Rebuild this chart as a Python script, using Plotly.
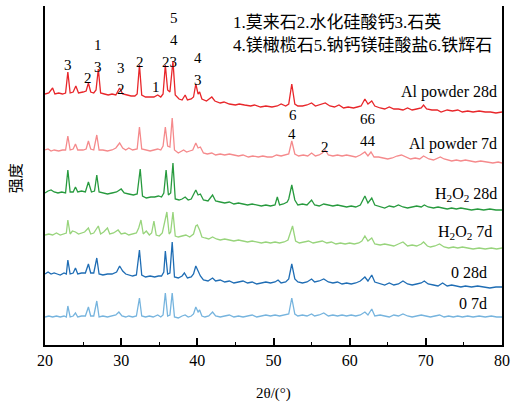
import plotly.graph_objects as go

# ---------------- data (2θ in degrees, intensity in a.u., stacked) ----------------
al28_x = [20.0, 20.5, 21.0, 21.3, 21.8, 22.3, 22.7, 23.0, 23.3, 23.7, 24.05, 24.4, 25.0, 25.4, 25.7, 26.0, 26.4, 26.7, 27.0, 27.3,
          27.8, 28.3, 28.8, 29.3, 29.8, 30.2, 30.8, 31.3, 31.8, 32.1, 32.4, 32.7, 33.2, 33.8, 34.3, 34.8, 35.2, 35.5, 35.8, 36.1,
          36.4, 36.8, 37.1, 37.6, 38.0, 38.4, 38.7, 39.2, 39.5, 39.8, 40.1, 40.3, 40.6, 41.2, 41.9, 42.3, 43.0, 43.5, 44.2, 45.0,
          45.5, 46.2, 47.0, 47.5, 48.3, 49.0, 49.8, 50.5, 51.0, 51.6, 52.0, 52.4, 52.8, 53.2, 53.8, 54.4, 55.0, 55.5, 56.0, 56.8,
          57.4, 58.0, 58.6, 59.2, 59.8, 60.5, 61.0, 61.5, 62.0, 62.4, 62.9, 63.3, 64.0, 64.6, 65.2, 65.8, 66.4, 67.0, 67.6, 68.2,
          68.8, 69.4, 69.7, 70.1, 70.8, 71.5, 72.0, 72.8, 73.5, 74.2, 74.8, 75.5, 76.2, 77.0, 77.8, 78.5, 79.2, 80.0]
al28_y = [251, 252, 257, 251, 252, 251, 252, 273, 252, 253, 259, 252, 253, 254, 262, 253, 252, 255, 276, 252,
          251, 250, 251, 250, 257, 251, 250, 249, 249, 251, 280, 250, 248, 248, 248, 250, 248, 251, 280, 255,
          253, 284, 250, 246, 245, 250, 245, 246, 248, 261, 251, 253, 246, 244, 248, 244, 242, 243, 241, 240,
          241, 240, 239, 240, 238, 239, 238, 239, 241, 239, 241, 261, 241, 239, 239, 240, 242, 239, 240, 242,
          239, 238, 240, 237, 238, 237, 238, 239, 246, 241, 244, 239, 237, 236, 238, 236, 236, 235, 237, 235,
          236, 237, 240, 236, 235, 235, 233, 235, 234, 235, 233, 234, 233, 234, 233, 233, 232, 233]

al7_x = [20.0, 20.4, 20.8, 21.2, 21.8, 22.3, 22.7, 23.0, 23.3, 23.7, 24.0, 24.3, 25.0, 25.4, 25.7, 26.0, 26.4, 26.8, 27.1, 27.6,
         28.2, 28.8, 29.3, 29.8, 30.2, 30.6, 31.0, 31.5, 32.1, 32.4, 32.7, 33.2, 33.8, 34.3, 34.8, 35.2, 35.5, 35.8, 36.1, 36.4,
         36.7, 37.0, 37.5, 38.2, 38.6, 39.0, 39.4, 39.8, 40.1, 40.4, 40.8, 41.3, 41.9, 42.4, 43.0, 43.6, 44.2, 44.8, 45.4, 46.0,
         46.7, 47.3, 48.0, 48.6, 49.2, 49.8, 50.4, 51.0, 51.6, 52.0, 52.4, 52.8, 53.3, 53.9, 54.5, 55.0, 55.5, 56.0, 56.4, 56.8,
         57.2, 57.8, 58.4, 59.0, 59.6, 60.2, 60.8, 61.4, 62.0, 62.4, 62.8, 63.2, 63.8, 64.4, 65.0, 65.6, 66.2, 66.8, 67.4, 68.0,
         68.6, 69.2, 69.7, 70.4, 71.0, 71.9, 72.4, 72.8, 73.4, 74.0, 74.6, 75.2, 75.8, 76.5, 77.2, 78.0, 78.8, 79.5, 80.0]
al7_y = [195, 196, 194, 195, 194, 195, 195, 209, 195, 196, 201, 195, 195, 196, 204, 196, 195, 210, 195, 195,
         194, 195, 197, 202, 197, 195, 197, 195, 196, 218, 196, 195, 194, 195, 196, 195, 199, 218, 199, 198,
         227, 195, 192, 195, 193, 194, 195, 202, 197, 198, 192, 191, 192, 190, 191, 190, 191, 190, 189, 190,
         188, 189, 188, 189, 188, 188, 190, 189, 190, 191, 204, 191, 189, 190, 189, 192, 189, 190, 192, 195,
         190, 189, 190, 189, 190, 189, 188, 190, 193, 189, 193, 188, 188, 187, 186, 187, 189, 190, 188, 186,
         187, 186, 189, 186, 185, 188, 186, 185, 184, 185, 184, 185, 184, 183, 184, 183, 182, 183, 182]

h28_x = [20.0, 20.4, 20.8, 21.2, 21.7, 22.2, 22.7, 23.0, 23.3, 23.7, 24.0, 24.3, 24.8, 25.3, 25.7, 26.1, 26.5, 26.8, 27.1, 27.6,
         28.2, 28.8, 29.4, 30.0, 30.4, 31.0, 31.6, 32.1, 32.5, 32.8, 33.3, 33.9, 34.4, 34.9, 35.3, 35.6, 35.9, 36.2, 36.5, 36.8,
         37.1, 37.6, 38.0, 38.4, 38.8, 39.2, 39.5, 39.8, 40.1, 40.4, 40.8, 41.4, 42.0, 42.4, 43.0, 43.6, 44.2, 44.8, 45.4, 46.0,
         46.6, 47.2, 47.8, 48.4, 49.0, 49.6, 50.2, 50.5, 50.8, 51.3, 51.8, 52.0, 52.4, 52.8, 53.2, 53.8, 54.4, 55.0, 55.4, 56.0,
         56.6, 57.2, 57.8, 58.4, 59.0, 59.6, 60.2, 60.8, 61.4, 62.0, 62.4, 62.9, 63.3, 64.0, 64.6, 65.2, 65.8, 66.4, 67.0, 67.6,
         68.2, 68.8, 69.4, 69.8, 70.3, 71.0, 71.6, 72.2, 72.8, 73.4, 74.0, 74.6, 75.2, 76.0, 76.8, 77.6, 78.4, 79.2, 80.0]
h28_y = [152, 154, 155, 153, 152, 153, 152, 175, 153, 153, 158, 153, 154, 153, 163, 153, 154, 170, 153, 152,
         151, 152, 153, 156, 152, 151, 150, 151, 176, 149, 147, 148, 148, 149, 148, 152, 175, 150, 152, 182,
         146, 145, 146, 148, 145, 146, 150, 155, 150, 151, 145, 144, 150, 144, 143, 142, 143, 141, 142, 141,
         140, 141, 140, 139, 140, 139, 140, 148, 140, 141, 143, 146, 160, 145, 140, 141, 140, 145, 140, 139,
         141, 140, 139, 140, 139, 138, 139, 138, 140, 149, 142, 147, 140, 138, 137, 139, 138, 140, 138, 137,
         138, 139, 138, 140, 138, 137, 138, 137, 136, 137, 136, 137, 136, 135, 136, 135, 136, 135, 135]

h7_x = [20.0, 20.5, 21.0, 21.5, 22.0, 22.5, 22.8, 23.0, 23.3, 23.6, 24.0, 24.4, 24.8, 25.2, 25.7, 26.0, 26.4, 27.0, 27.3, 27.7,
        28.2, 28.5, 29.0, 29.6, 30.0, 30.5, 31.0, 31.5, 32.0, 32.3, 32.6, 32.9, 33.3, 33.7, 34.0, 34.3, 34.6, 35.0, 35.4, 36.0,
        36.3, 36.5, 36.8, 37.1, 37.5, 38.0, 38.5, 39.0, 39.5, 39.8, 40.0, 40.3, 40.6, 41.0, 41.5, 42.0, 42.5, 43.0, 43.6, 44.2,
        44.8, 45.4, 46.0, 46.6, 47.2, 47.8, 48.4, 49.0, 49.6, 50.2, 50.8, 51.4, 51.9, 52.5, 52.9, 53.4, 54.0, 54.6, 55.2, 55.8,
        56.4, 57.0, 57.6, 58.2, 58.8, 59.4, 60.0, 60.6, 61.2, 61.6, 62.0, 62.4, 62.9, 63.3, 64.0, 64.6, 65.2, 65.8, 66.4, 67.0,
        67.6, 68.2, 68.8, 69.4, 69.7, 70.2, 70.6, 71.2, 71.8, 72.4, 73.0, 73.6, 74.2, 74.8, 75.5, 76.2, 77.0, 77.8, 78.6, 79.3, 80.0]
h7_y = [110, 111, 110, 112, 110, 111, 112, 125, 111, 114, 113, 111, 112, 113, 117, 111, 112, 119, 111, 113,
        117, 111, 112, 115, 111, 112, 110, 111, 112, 117, 125, 111, 114, 110, 112, 124, 110, 109, 112, 133,
        111, 113, 133, 109, 108, 109, 110, 108, 111, 119, 120, 115, 108, 107, 106, 108, 106, 105, 106, 105,
        104, 105, 104, 103, 104, 103, 102, 103, 102, 103, 102, 103, 105, 119, 104, 102, 103, 104, 102, 103,
        104, 102, 103, 101, 102, 101, 102, 101, 102, 104, 109, 104, 107, 101, 100, 101, 100, 99, 101, 103,
        99, 100, 99, 101, 103, 99, 98, 99, 101, 98, 97, 98, 97, 98, 97, 96, 97, 96, 97, 96, 97]

c28_x = [20.0, 20.4, 20.8, 21.2, 21.6, 22.0, 22.5, 22.8, 23.0, 23.3, 23.7, 24.0, 24.3, 24.8, 25.3, 25.7, 26.0, 26.4, 26.8, 27.1,
         27.6, 28.2, 28.8, 29.4, 29.8, 30.2, 30.6, 31.0, 31.5, 32.0, 32.4, 32.7, 33.2, 33.8, 34.4, 34.9, 35.3, 35.6, 35.8, 36.1,
         36.4, 36.7, 37.0, 37.5, 38.0, 38.3, 38.7, 39.2, 39.5, 39.8, 40.1, 40.4, 40.8, 41.4, 42.0, 42.4, 43.0, 43.6, 44.2, 44.8,
         45.4, 46.0, 46.6, 47.2, 47.8, 48.4, 49.0, 49.6, 50.2, 50.6, 51.0, 51.6, 52.0, 52.4, 52.8, 53.2, 53.8, 54.4, 55.0, 55.4,
         56.0, 56.6, 57.2, 57.8, 58.4, 59.0, 59.6, 60.2, 60.8, 61.4, 62.0, 62.4, 62.9, 63.3, 64.0, 64.6, 65.2, 65.8, 66.4, 67.0,
         67.6, 68.2, 68.8, 69.4, 69.8, 70.3, 71.0, 71.6, 72.2, 72.8, 73.4, 74.0, 74.6, 75.2, 76.0, 76.8, 77.6, 78.4, 79.2, 80.0]
c28_y = [71, 73, 71, 72, 71, 70, 72, 71, 85, 71, 72, 77, 71, 72, 72, 81, 72, 72, 87, 71,
         70, 71, 71, 73, 79, 74, 71, 70, 69, 70, 95, 70, 68, 69, 68, 69, 69, 73, 94, 71,
         72, 103, 68, 67, 69, 72, 67, 68, 71, 79, 73, 69, 65, 64, 67, 64, 65, 63, 64, 62,
         63, 64, 62, 63, 61, 62, 63, 62, 63, 65, 62, 63, 66, 81, 66, 63, 62, 63, 66, 63,
         64, 66, 63, 62, 63, 61, 62, 61, 62, 64, 68, 64, 70, 63, 61, 60, 62, 60, 61, 64,
         61, 60, 61, 62, 64, 61, 60, 59, 62, 59, 60, 59, 58, 59, 58, 59, 58, 57, 58, 58]

c7_x = [20.0, 20.5, 21.0, 21.5, 22.0, 22.5, 22.8, 23.0, 23.3, 23.7, 24.0, 24.3, 24.8, 25.3, 25.7, 26.0, 26.4, 26.8, 27.1, 27.6,
        28.2, 28.8, 29.3, 29.7, 30.1, 30.6, 31.0, 31.5, 32.0, 32.4, 32.7, 33.2, 33.7, 34.2, 34.8, 35.2, 35.5, 35.8, 36.1, 36.4,
        36.7, 37.0, 37.5, 38.0, 38.4, 38.8, 39.2, 39.5, 39.8, 40.1, 40.3, 40.6, 41.0, 41.5, 42.0, 42.4, 43.0, 43.6, 44.2, 44.8,
        45.4, 46.0, 46.6, 47.2, 47.8, 48.4, 49.0, 49.6, 50.2, 50.8, 51.4, 52.0, 52.4, 52.8, 53.2, 53.8, 54.4, 55.0, 55.4, 56.0,
        56.6, 57.2, 57.8, 58.4, 59.0, 59.6, 60.2, 60.8, 61.4, 62.0, 62.4, 62.9, 63.3, 64.0, 64.6, 65.2, 65.8, 66.4, 67.0, 67.6,
        68.2, 68.8, 69.4, 70.0, 70.6, 71.2, 71.8, 72.4, 73.0, 73.6, 74.2, 74.8, 75.5, 76.2, 77.0, 77.8, 78.6, 79.3, 80.0]
c7_y = [28, 29, 28, 29, 28, 29, 28, 39, 28, 29, 32, 28, 29, 29, 38, 29, 29, 44, 28, 29,
        28, 29, 30, 33, 29, 28, 29, 28, 29, 47, 29, 28, 29, 28, 30, 28, 30, 52, 29, 30,
        52, 28, 27, 29, 30, 28, 29, 31, 38, 33, 35, 29, 28, 29, 33, 29, 28, 29, 30, 28,
        29, 28, 29, 30, 28, 29, 30, 29, 30, 29, 30, 31, 47, 31, 29, 30, 29, 31, 29, 30,
        32, 29, 30, 29, 30, 29, 30, 29, 30, 33, 30, 36, 29, 30, 29, 28, 30, 29, 31, 29,
        28, 29, 30, 29, 28, 29, 30, 28, 29, 28, 29, 28, 29, 28, 29, 28, 29, 28, 28]

series_names = ["Al powder 28d", "Al powder 7d", "H<sub>2</sub>O<sub>2</sub> 28d",
                "H<sub>2</sub>O<sub>2</sub> 7d", "0 28d", "0 7d"]
series_x = [al28_x, al7_x, h28_x, h7_x, c28_x, c7_x]
series_y = [al28_y, al7_y, h28_y, h7_y, c28_y, c7_y]
series_colors = ["#e8262a", "#f58a8c", "#279a3e", "#98d47c", "#1f6db4", "#76b4de"]
# label positions (2θ, intensity)
label_x = [79.6, 79.6, 79.6, 79.0, 78.3, 78.3]
label_y = [253, 201, 151, 113, 73, 42]

# phase peak markers
peak_text = ["3", "2", "1", "3", "3", "2", "2", "1", "23", "5", "4", "4", "3", "6", "4", "2", "66", "44"]
peak_x = [23.0, 25.7, 27.0, 27.0, 30.0, 30.0, 32.5, 34.6, 36.3, 37.0, 37.0, 40.1, 40.1, 52.5, 52.4, 56.7, 62.4, 62.4]
peak_y = [280, 267, 300, 278, 277, 256, 283, 258, 283, 327, 305, 287, 265, 230, 211, 198, 226, 204]

legend_lines = ["1.莫来石2.水化硅酸钙3.石英", "4.镁橄榄石5.钠钙镁硅酸盐6.铁辉石"]
legend_y = [323, 300]

x_ticks = [20, 30, 40, 50, 60, 70, 80]

SERIF = "Liberation Serif, Times New Roman, serif"
MIX = "Liberation Serif, Noto Sans CJK SC, serif"

fig = go.Figure()
for xs, ys, c, n in zip(series_x, series_y, series_colors, series_names):
    fig.add_trace(go.Scatter(x=xs, y=ys, mode="lines", name=n,
                             line=dict(color=c, width=1.3), hoverinfo="skip", showlegend=False))

annotations = []
for t, lx, ly in zip(series_names, label_x, label_y):
    annotations.append(dict(x=lx, y=ly, xref="x", yref="y", text=t, showarrow=False,
                            xanchor="right", yanchor="middle",
                            font=dict(family=SERIF, size=16, color="black")))
for t, px, py in zip(peak_text, peak_x, peak_y):
    annotations.append(dict(x=px, y=py, xref="x", yref="y", text=t, showarrow=False,
                            xanchor="center", yanchor="middle",
                            font=dict(family=SERIF, size=15, color="black")))
for t, ly in zip(legend_lines, legend_y):
    annotations.append(dict(x=44.4, y=ly, xref="x", yref="y", text=t, showarrow=False,
                            xanchor="left", yanchor="middle",
                            font=dict(family=MIX, size=17, color="black")))
annotations.append(dict(x=0.5, y=-0.142, xref="paper", yref="paper", text="2θ/(°)", showarrow=False,
                        xanchor="center", yanchor="middle",
                        font=dict(family=SERIF, size=15, color="black")))
annotations.append(dict(x=-0.065, y=0.493, xref="paper", yref="paper", text="强度", showarrow=False,
                        textangle=-90, xanchor="center", yanchor="middle",
                        font=dict(family="Noto Sans CJK SC", size=15, color="black")))

fig.update_layout(
    width=516, height=402,
    margin=dict(l=45, r=12, t=6, b=57),
    paper_bgcolor="white", plot_bgcolor="white",
    annotations=annotations,
    xaxis=dict(range=[20, 80], tickvals=x_ticks, ticks="inside", ticklen=7, tickwidth=1.5,
               tickcolor="black", showline=True, linecolor="black", linewidth=1.8,
               showgrid=False, zeroline=False,
               minor=dict(ticks="inside", ticklen=3, tickwidth=1.2, tickcolor="black", dtick=5, showgrid=False),
               tickfont=dict(family=SERIF, size=16, color="black")),
    yaxis=dict(range=[0, 339], showticklabels=False, ticks="", showline=True, mirror=True,
               linecolor="black", linewidth=1.8, showgrid=False, zeroline=False),
)

fig.write_html("out.html")
